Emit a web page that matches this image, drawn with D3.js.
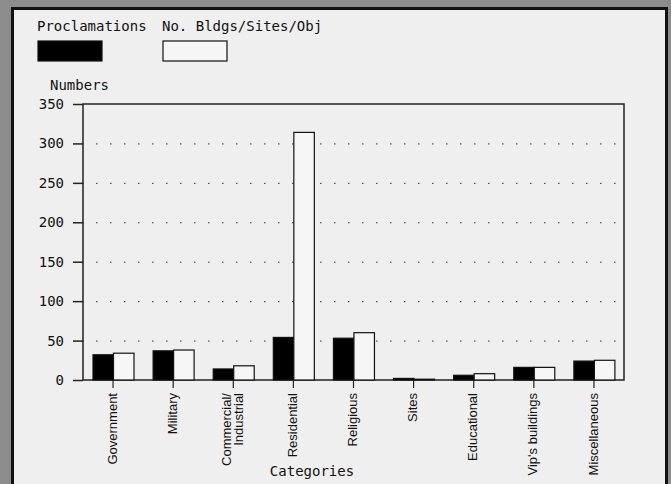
<!DOCTYPE html>
<html>
<head>
<meta charset="utf-8">
<script src="https://cdn.jsdelivr.net/npm/d3@7"></script>
<style>
	body { margin: 0; background: #8c8c8c; }
	svg { display: block; }
	.mono { font-family: "DejaVu Sans Mono", monospace; font-size: 14px; fill: #111; }
	.cat { font-family: "Liberation Sans", Arial, sans-serif; font-size: 13px; fill: #111; }
</style>
</head>
<body>
<svg width="671" height="484"></svg>
<script>
'use strict';

const categories = ["Government", "Military", "Commercial/\nIndustrial", "Residential",
	"Religious", "Sites", "Educational", "Vip's buildings", "Miscellaneous"];
const proclamations = [32, 37, 14, 54, 53, 2, 6, 16, 24];
const buildings = [34, 38, 18, 314, 60, 1, 8, 16, 25];
const seriesNames = ["Proclamations", "No. Bldgs/Sites/Obj"];
const yTicks = [0, 50, 100, 150, 200, 250, 300, 350];

function draw() {
	const svg = d3.select("svg");
	const left = 83, right = 624, top = 104, bottom = 380;

	// grey surround + scanned white panel
	svg.append("rect")
		.attr("width", 671).attr("height", 484)
		.attr("fill", "#8c8c8c");
	svg.append("rect")
		.attr("x", 12.5).attr("y", 8.5)
		.attr("width", 654).attr("height", 490)
		.attr("fill", "#efefef")
		.attr("stroke", "#111")
		.attr("stroke-width", 3);

	const x = d3.scaleBand()
		.domain(categories)
		.range([left, right])
		.padding(0);
	const sub = d3.scaleBand()
		.domain([0, 1])
		.range([10, 51]);
	const y = d3.scaleLinear()
		.domain([0, 350])
		.range([bottom, top]);

	// dotted grid
	svg.append("g")
		.selectAll("line")
		.data(yTicks.filter(d => d > 0 && d < 350))
		.enter().append("line")
		.attr("x1", left).attr("x2", right)
		.attr("y1", d => y(d) + 0.5).attr("y2", d => y(d) + 0.5)
		.attr("stroke", "#333")
		.attr("stroke-dasharray", "1.5 12.5")
		.attr("stroke-dashoffset", -13);

	// frame
	svg.append("rect")
		.attr("x", left).attr("y", top)
		.attr("width", right - left).attr("height", bottom - top)
		.attr("fill", "none")
		.attr("stroke", "#222")
		.attr("stroke-width", 1.5);

	// bars
	const groups = svg.append("g")
		.selectAll("g")
		.data(categories.map((c, i) => ({ cat: c, vals: [proclamations[i], buildings[i]] })))
		.enter().append("g")
		.attr("transform", d => `translate(${x(d.cat)},0)`);
	groups.selectAll("rect")
		.data(d => d.vals.map((v, k) => ({ v, k })))
		.enter().append("rect")
		.attr("x", d => sub(d.k))
		.attr("y", d => y(d.v))
		.attr("width", sub.bandwidth())
		.attr("height", d => y(0) - y(d.v))
		.attr("fill", d => d.k === 0 ? "#000" : "#f6f6f6")
		.attr("stroke", "#111")
		.attr("stroke-width", 1.2);

	// y axis
	const yAxis = svg.append("g")
		.attr("transform", `translate(${left},0)`)
		.call(d3.axisLeft(y).tickValues(yTicks).tickSize(10).tickPadding(9));
	yAxis.select(".domain").remove();
	yAxis.selectAll("line").attr("stroke", "#222").attr("stroke-width", 1.5);
	yAxis.selectAll("text")
		.attr("class", "mono")
		.attr("font-family", null).attr("font-size", null);

	// x axis
	const xAxis = svg.append("g")
		.attr("transform", `translate(0,${bottom})`)
		.call(d3.axisBottom(x).tickSize(8).tickFormat(""));
	xAxis.select(".domain").remove();
	xAxis.selectAll("line").attr("stroke", "#222").attr("stroke-width", 1.2);

	const labels = svg.append("g")
		.selectAll("text")
		.data(categories)
		.enter().append("text")
		.attr("class", "cat")
		.attr("text-anchor", "end")
		.attr("transform", d => `translate(${x(d) + x.bandwidth() / 2},393) rotate(-90)`);
	labels.each(function(d) {
		const lines = d.split("\n");
		const t = d3.select(this);
		lines.forEach((ln, i) => {
			t.append("tspan")
				.attr("x", 0)
				.attr("y", (i - (lines.length - 1) / 2) * 12 - 1)
				.attr("dy", "0.35em")
				.text(ln);
		});
	});

	// titles
	svg.append("text").attr("class", "mono")
		.attr("x", 50).attr("y", 90)
		.text("Numbers");
	svg.append("text").attr("class", "mono")
		.attr("x", 312).attr("y", 476)
		.attr("text-anchor", "middle")
		.text("Categories");

	// legend
	const legendX = [37, 162];
	seriesNames.forEach((name, i) => {
		svg.append("text").attr("class", "mono")
			.attr("x", legendX[i]).attr("y", 31)
			.text(name);
		svg.append("rect")
			.attr("x", legendX[i] + 1).attr("y", 41)
			.attr("width", 64).attr("height", 20)
			.attr("fill", i === 0 ? "#000" : "#f6f6f6")
			.attr("stroke", "#111")
			.attr("stroke-width", 1.2);
	});
}

draw();
</script>
</body>
</html>
